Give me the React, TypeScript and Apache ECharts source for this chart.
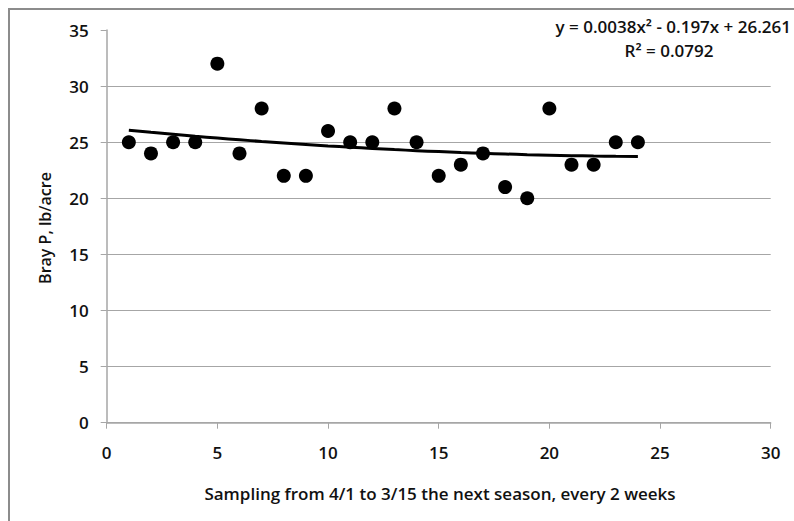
import React, { useEffect, useRef } from "react";
import * as echarts from "echarts";

const sampleIndex = [1, 2, 3, 4, 5, 6, 7, 8, 9, 10, 11, 12, 13, 14, 15, 16, 17, 18, 19, 20, 21, 22, 23, 24];
const brayP = [25, 24, 25, 25, 32, 24, 28, 22, 22, 26, 25, 25, 28, 25, 22, 23, 24, 21, 20, 28, 23, 23, 25, 25];
// Trendline coefficients as printed on the chart
const trendA = 0.0038;
const trendB = -0.197;
const trendC = 26.261;
const equationText = "y = 0.0038x\u00B2 - 0.197x + 26.261";
const r2Text = "R\u00B2 = 0.0792";
const xTitle = "Sampling from 4/1 to 3/15 the next season, every 2 weeks";
const yTitle = "Bray P, lb/acre";

const FONT = "Open Sans";

export default function App() {
  const ref = useRef<HTMLDivElement>(null);
  useEffect(() => {
    if (!ref.current) return;
    const chart = echarts.init(ref.current, null, { renderer: "svg" });
    const scatterData = sampleIndex.map((x, i) => [x, brayP[i]]);
    const trendData = sampleIndex.map((x) => [x, trendA * x * x + trendB * x + trendC]);
    const labelStyle = { color: "#111", fontFamily: FONT, fontWeight: 600 as any, fontSize: 17 };
    chart.setOption({
      animation: false,
      backgroundColor: "#ffffff",
      grid: { left: 106.7, right: 23.3, top: 30, bottom: 98.3 },
      xAxis: {
        type: "value",
        min: 0,
        max: 30,
        interval: 5,
        axisLine: { show: true, lineStyle: { color: "#a6a6a6", width: 1.5 } },
        axisTick: { show: true, length: 6, lineStyle: { color: "#a6a6a6" } },
        axisLabel: { ...labelStyle, margin: 21 },
        splitLine: { show: false },
      },
      yAxis: {
        type: "value",
        min: 0,
        max: 35,
        interval: 5,
        axisLine: { show: true, lineStyle: { color: "#a6a6a6", width: 1.5 } },
        axisTick: { show: true, length: 6, lineStyle: { color: "#a6a6a6" } },
        axisLabel: { ...labelStyle, margin: 18 },
        splitLine: {
          show: true,
          lineStyle: {
            color: ["#a6a6a6", "#a6a6a6", "#a6a6a6", "#a6a6a6", "#a6a6a6", "#a6a6a6", "#a6a6a6", "rgba(0,0,0,0)"],
            width: 1,
          },
        },
      },
      series: [
        {
          type: "scatter",
          data: scatterData,
          symbol: "circle",
          symbolSize: 14,
          itemStyle: { color: "#000", opacity: 1 },
          z: 3,
        },
        {
          type: "line",
          data: trendData,
          showSymbol: false,
          symbol: "none",
          smooth: true,
          lineStyle: { color: "#000", width: 3 },
          z: 4,
        },
      ],
      graphic: [
        {
          type: "rect",
          shape: { x: 9, y: 9, width: 900, height: 700 },
          style: { fill: "none", stroke: "#8c8c8c", lineWidth: 2 },
          silent: true,
        },
        {
          type: "text",
          x: 45,
          y: 228,
          rotation: Math.PI / 2,
          style: {
            text: yTitle,
            fill: "#111",
            font: `600 16px "${FONT}"`,
            align: "center",
            verticalAlign: "middle",
          },
        },
        {
          type: "text",
          x: 440,
          y: 493,
          style: {
            text: xTitle,
            fill: "#111",
            font: `600 17px "${FONT}"`,
            align: "center",
            verticalAlign: "middle",
          },
        },
        {
          type: "text",
          x: 791,
          y: 26,
          style: {
            text: equationText,
            fill: "#111",
            font: `600 17px "${FONT}"`,
            align: "right",
            verticalAlign: "middle",
          },
        },
        {
          type: "text",
          x: 669,
          y: 50,
          style: {
            text: r2Text,
            fill: "#111",
            font: `600 17px "${FONT}"`,
            align: "center",
            verticalAlign: "middle",
          },
        },
      ],
    });
    return () => chart.dispose();
  }, []);
  return (
    <div
      ref={ref}
      style={{ position: "fixed", left: 0, top: 0, width: 794, height: 521 }}
    />
  );
}
